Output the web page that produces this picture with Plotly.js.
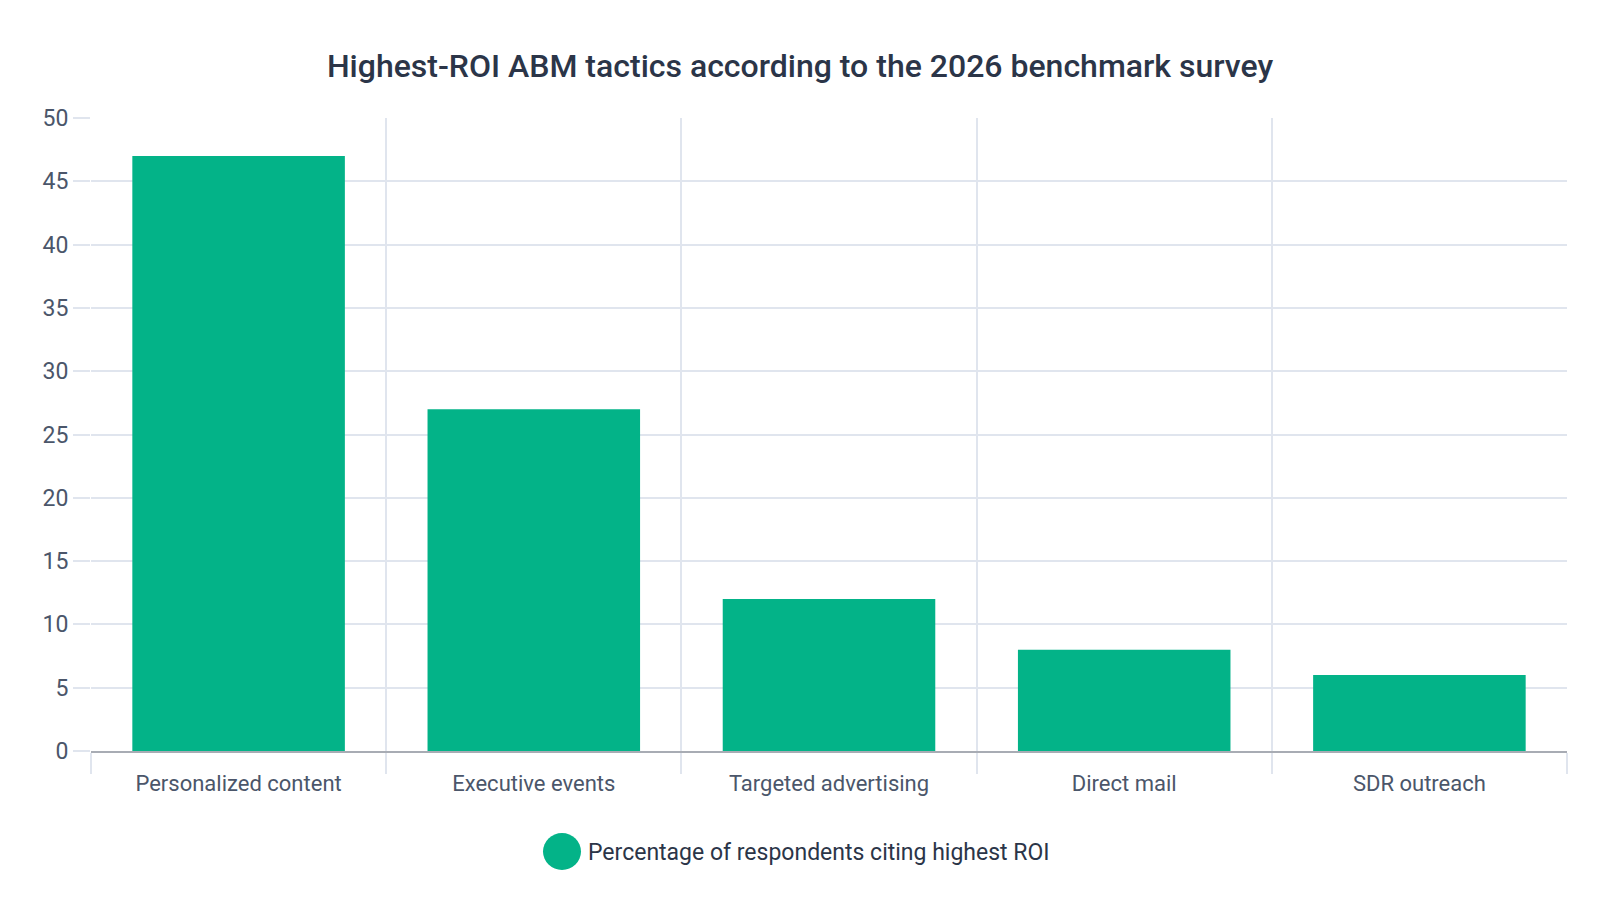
<!DOCTYPE html>
<html>
<head>
<meta charset="utf-8">
<script src="https://cdn.plot.ly/plotly-3.0.1.min.js"></script>
<style>
  html, body { margin: 0; padding: 0; background: #fff; }
  #chart { width: 1600px; height: 900px; }
</style>
</head>
<body>
<div id="chart"></div>
<script>
const tactics = ['Personalized content', 'Executive events', 'Targeted advertising', 'Direct mail', 'SDR outreach'];
const shareCiting = [47, 27, 12, 8, 6];
const seriesName = 'Percentage of respondents citing highest ROI';
const yTicks = [0, 5, 10, 15, 20, 25, 30, 35, 40, 45, 50];

const green = '#03b388';
const gridCol = '#e0e5ee';
const textCol = '#2b3548';
const tickCol = '#4b566a';

// plot box in pixels, used to place the hand-drawn legend
const box = { l: 91, r: 1567, t: 118, b: 751 };
const px = v => (v - box.l) / (box.r - box.l);
const py = v => (box.b - v) / (box.b - box.t);

const data = [{
    x: tactics,
    y: shareCiting,
    type: 'bar',
    name: seriesName,
    marker: { color: green },
    showlegend: false,
    hoverinfo: 'x+y'
}];

const layout = {
    width: 1600,
    height: 900,
    title: {
        text: 'Highest-ROI ABM tactics according to the 2026 benchmark survey',
        font: { family: 'Roboto, Arial', size: 32, color: textCol, weight: 500 },
        x: 0.5,
        xanchor: 'center',
        y: 1 - 66 / 900,
        yanchor: 'middle'
    },
    margin: { l: box.l, r: 1600 - box.r, t: box.t, b: 900 - box.b, pad: 0 },
    bargap: 0.28,
    paper_bgcolor: '#ffffff',
    plot_bgcolor: '#ffffff',
    font: { family: 'Roboto, Arial', color: tickCol },
    xaxis: {
        tickson: 'boundaries',
        ticks: 'outside',
        ticklen: 21,
        tickcolor: gridCol,
        tickwidth: 2,
        ticklabelstandoff: 12,
        showgrid: true,
        gridcolor: gridCol,
        gridwidth: 2,
        showline: true,
        linecolor: '#a8acb4',
        linewidth: 2,
        tickfont: { size: 22, color: tickCol }
    },
    yaxis: {
        range: [0, 50],
        tickvals: yTicks,
        ticks: 'outside',
        ticklen: 17,
        tickcolor: gridCol,
        tickwidth: 2,
        showgrid: true,
        gridcolor: gridCol,
        gridwidth: 2,
        zeroline: false,
        showline: false,
        tickfont: { size: 23, color: tickCol }
    },
    shapes: [{
        type: 'circle',
        xref: 'paper', yref: 'paper',
        x0: px(543), x1: px(581),
        y0: py(870), y1: py(833),
        fillcolor: green,
        line: { width: 0 }
    }],
    annotations: [{
        text: seriesName,
        xref: 'paper', yref: 'paper',
        x: px(586),
        y: py(852),
        xanchor: 'left',
        yanchor: 'middle',
        showarrow: false,
        font: { family: 'Roboto, Arial', size: 23, color: textCol }
    }]
};

const config = {
    responsive: false,
    displaylogo: false,
    displayModeBar: false
};

Plotly.newPlot('chart', data, layout, config);
</script>
</body>
</html>
